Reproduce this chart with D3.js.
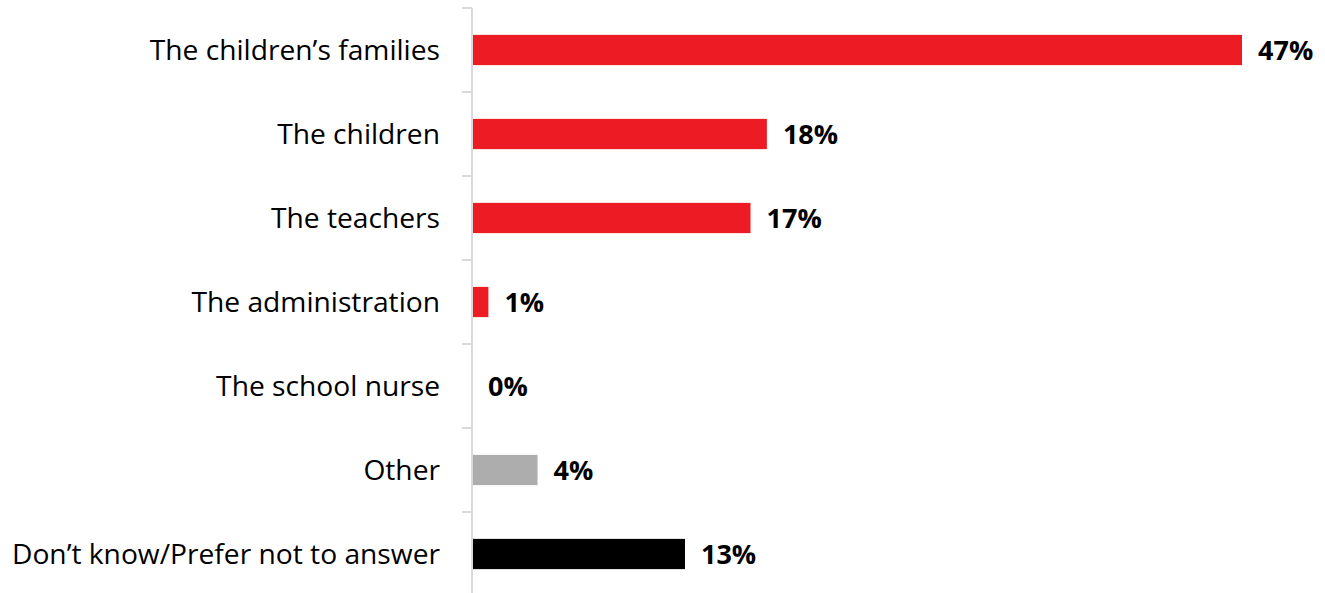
<!DOCTYPE html>
<html>
<head>
<meta charset="utf-8">
<script src="https://cdn.jsdelivr.net/npm/d3@7"></script>
<style>
  body { margin: 0; background: #fff; }
  svg text { font-family: "Open Sans", Lato, sans-serif; fill: #000; }
</style>
</head>
<body>
<div id="vis"></div>
<script>
// chart data
var categories = ['The children\u2019s families', 'The children', 'The teachers',
  'The administration', 'The school nurse', 'Other', 'Don\u2019t know/Prefer not to answer'];
var values = [47, 18, 17, 1, 0, 4, 13];
var barColors = ['#ed1c24', '#ed1c24', '#ed1c24', '#ed1c24', '#ed1c24', '#adadad', '#000000'];

var width = 1325;
var height = 593;
var axisX = 472;

var svg = d3.select('#vis')
  .append('svg')
  .attr('width', width)
  .attr('height', height);

var x = d3.scaleLinear()
  .domain([0, 47])
  .range([axisX, 1242]);

var y = d3.scaleBand()
  .domain(categories)
  .range([8, 596])
  .paddingInner(0.64)
  .paddingOuter(0.32);

// bars
svg.selectAll('.bar')
  .data(values)
  .enter().append('rect')
  .attr('class', 'bar')
  .attr('x', x(0))
  .attr('y', function (d, i) { return y(categories[i]); })
  .attr('width', function (d) { return x(d) - x(0); })
  .attr('height', y.bandwidth())
  .attr('fill', function (d, i) { return barColors[i]; });

// category axis, ticks sit between the bands
var axis = svg.append('g')
  .attr('transform', 'translate(' + axisX + ',0)');

axis.append('line')
  .attr('x1', 0).attr('x2', 0)
  .attr('y1', 8).attr('y2', 596)
  .attr('stroke', '#d9d9d9')
  .attr('stroke-width', 2);

var step = y.step();
var bounds = d3.range(categories.length + 1).map(function (i) { return 8 + i * step; });

axis.selectAll('.tick')
  .data(bounds)
  .enter().append('line')
  .attr('class', 'tick')
  .attr('x1', -10).attr('x2', 0)
  .attr('y1', function (d) { return d; })
  .attr('y2', function (d) { return d; })
  .attr('stroke', '#d9d9d9')
  .attr('stroke-width', 2);

// category labels
svg.selectAll('.cat')
  .data(categories)
  .enter().append('text')
  .attr('class', 'cat')
  .attr('x', 440)
  .attr('y', function (d) { return y(d) + y.bandwidth() / 2; })
  .attr('dy', '0.34em')
  .attr('text-anchor', 'end')
  .style('font-size', '28.2px')
  .text(function (d) { return d; });

// value labels
svg.selectAll('.val')
  .data(values)
  .enter().append('text')
  .attr('class', 'val')
  .attr('x', function (d) { return x(d) + 16; })
  .attr('y', function (d, i) { return y(categories[i]) + y.bandwidth() / 2; })
  .attr('dy', '0.36em')
  .style('font-size', '27px')
  .style('font-weight', 'bold')
  .text(function (d) { return d + '%'; });
</script>
</body>
</html>
